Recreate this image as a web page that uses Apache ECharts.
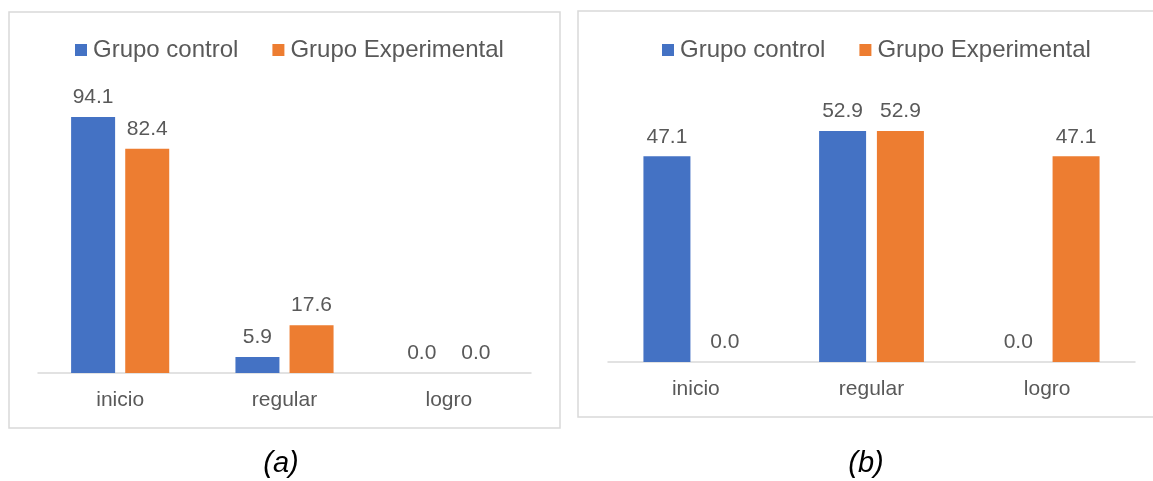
<!DOCTYPE html>
<html><head><meta charset="utf-8">
<script src="https://cdn.jsdelivr.net/npm/echarts@6/dist/echarts.min.js"></script>
<style>html,body{margin:0;padding:0;background:#fff}#c{width:1153px;height:481px}</style>
</head><body><div id="c"></div>
<script>
const categories = ['inicio', 'regular', 'logro'];
const seriesNames = ['Grupo control', 'Grupo Experimental'];
const controlA = [94.1, 5.9, 0.0];
const experimentalA = [82.4, 17.6, 0.0];
const controlB = [47.1, 52.9, 0.0];
const experimentalB = [0.0, 52.9, 47.1];
const panelLabels = ['(a)', '(b)'];

const BLUE = '#4472C4', ORANGE = '#ED7D31', TXT = '#595959', FONT = 'Liberation Sans, Arial, sans-serif';
const chart = echarts.init(document.getElementById('c'), null, {renderer: 'canvas'});
const lbl = {show: true, position: 'top', distance: 9, color: TXT, fontSize: 21, fontFamily: FONT,
  formatter: p => Number(p.value).toFixed(1)};
function bar(name, data, idx, color, w, gap) {
  return {type: 'bar', name, data, xAxisIndex: idx, yAxisIndex: idx, barWidth: w, barGap: gap,
    itemStyle: {color}, label: lbl, animation: false};
}
const legendBase = {itemWidth: 12, itemHeight: 12, itemGap: 34, icon: 'rect',
  textStyle: {color: TXT, fontSize: 24, fontFamily: FONT, padding: [0, 0, 0, 1]}, data: seriesNames, selectedMode: false};
chart.setOption({
  animation: false,
  graphic: [
    {type: 'rect', shape: {x: 9, y: 12, width: 551, height: 416}, style: {fill: 'none', stroke: '#d9d9d9', lineWidth: 1.5}},
    {type: 'rect', shape: {x: 578, y: 11, width: 600, height: 406}, style: {fill: 'none', stroke: '#d9d9d9', lineWidth: 1.5}}
  ],
  title: [
    {text: panelLabels[0], left: 276, top: 444, textAlign: 'center', textStyle: {fontSize: 29, fontStyle: 'italic', fontWeight: 'normal', color: '#000', fontFamily: FONT}},
    {text: panelLabels[1], left: 861, top: 444, textAlign: 'center', textStyle: {fontSize: 29, fontStyle: 'italic', fontWeight: 'normal', color: '#000', fontFamily: FONT}}
  ],
  legend: [
    Object.assign({}, legendBase, {left: 70, top: 33}),
    Object.assign({}, legendBase, {left: 657, top: 33})
  ],
  grid: [
    {left: 38, right: 1153 - 531, top: 101, bottom: 481 - 373},
    {left: 608, right: 1153 - 1135, top: 100, bottom: 481 - 362}
  ],
  xAxis: [0, 1].map(i => ({type: 'category', gridIndex: i, data: categories,
    axisLine: {lineStyle: {color: '#d9d9d9', width: 1.5}}, axisTick: {show: false},
    axisLabel: {color: TXT, fontSize: 21, fontFamily: FONT, margin: 17}})),
  yAxis: [
    {type: 'value', gridIndex: 0, min: 0, max: 100, show: false, splitLine: {show: false}},
    {type: 'value', gridIndex: 1, min: 0, max: 60, show: false, splitLine: {show: false}}
  ],
  series: [
    bar(seriesNames[0], controlA, 0, BLUE, 44, '23%'),
    bar(seriesNames[1], experimentalA, 0, ORANGE, 44, '23%'),
    bar(seriesNames[0], controlB, 1, BLUE, 47, '23%'),
    bar(seriesNames[1], experimentalB, 1, ORANGE, 47, '23%')
  ]
});
</script></body></html>
